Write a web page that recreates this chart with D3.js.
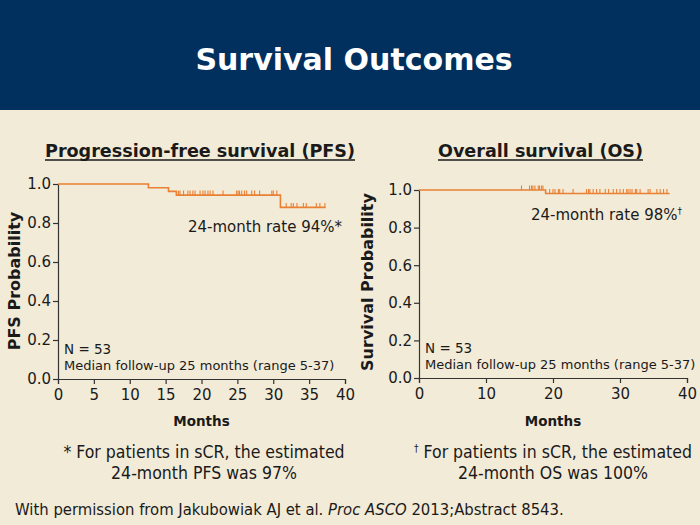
<!DOCTYPE html>
<html>
<head>
<meta charset="utf-8">
<script src="https://cdn.jsdelivr.net/npm/d3@7"></script>
<style>
  body { margin: 0; background: #f2ebd8; }
  svg { display: block; }
  text { font-family: "DejaVu Sans", Verdana, sans-serif; fill: #1a1a1a; }
</style>
</head>
<body>
<svg id="chart"></svg>
<script>
// Progression-free survival: step times (months) and probabilities
const pfsTimes = [0, 12.6, 15.4, 16.5, 31.0, 37.3];
const pfsSurv = [1.0, 0.981, 0.962, 0.943, 0.88, 0.88];
const pfsCensored = [16.8, 17.0, 17.5, 18.1, 18.4, 18.8, 19.1, 19.8, 20.2, 20.5, 20.9, 21.2, 21.6, 23.0,
  24.9, 25.1, 25.3, 25.6, 26.0, 26.3, 27.0, 27.4, 28.1, 29.8, 30.0, 30.5,
  31.8, 32.5, 32.8, 33.3, 34.2, 34.6, 36.0, 36.5, 37.2];

// Overall survival
const osTimes = [0, 18.9, 37.4];
const osSurv = [1.0, 0.981, 0.981];
const osCensored = [15.3, 16.5, 16.8, 17.0, 17.3, 17.8, 18.0, 18.3, 18.5,
  19.5, 20.0, 20.3, 20.8, 21.0, 21.5, 23.0, 25.0, 25.3, 25.5, 26.0, 26.5, 27.0, 27.8, 28.3,
  29.0, 29.5, 30.0, 30.5, 31.0, 31.2, 31.5, 31.8, 32.3, 32.5, 33.0, 34.2, 34.5, 35.5, 36.0, 36.5, 37.0];

const yTicks = [0, 0.2, 0.4, 0.6, 0.8, 1.0];
const pfsXTicks = [0, 5, 10, 15, 20, 25, 30, 35, 40];
const osXTicks = [0, 10, 20, 30, 40];

const width = 700, height = 525;
const orange = '#ea8033';
const condensed = '"DejaVu Sans Condensed", "DejaVu Sans", sans-serif';

const svg = d3.select('#chart').attr('width', width).attr('height', height);

svg.append('rect').attr('width', width).attr('height', height).attr('fill', '#f2ebd8');
svg.append('rect').attr('width', width).attr('height', 110).attr('fill', '#012f5e');

svg.append('text')
  .attr('x', 354).attr('y', 70)
  .attr('text-anchor', 'middle')
  .style('font-size', '30px').style('font-weight', 'bold').style('fill', '#fff')
  .text('Survival Outcomes');

const heading = (x, text, len) => {
  svg.append('text')
    .attr('x', x).attr('y', 157)
    .attr('textLength', len).attr('lengthAdjust', 'spacingAndGlyphs')
    .style('font-size', '18px').style('font-weight', 'bold')
    .text(text);
  svg.append('line')
    .attr('x1', x).attr('x2', x + len)
    .attr('y1', 160).attr('y2', 160)
    .attr('stroke', '#1a1a1a').attr('stroke-width', 1.5);
};
heading(45, 'Progression-free survival (PFS)', 310);
heading(438, 'Overall survival (OS)', 205);

function drawPanel(cfg) {
  const x = d3.scaleLinear().domain([0, 40]).range([cfg.left, cfg.right]);
  const y = d3.scaleLinear().domain([0, 1]).range([cfg.bottom, cfg.top]);
  const g = svg.append('g');

  const yAxis = g.append('g')
    .attr('transform', `translate(${cfg.left},0)`)
    .call(d3.axisLeft(y).tickValues(yTicks).tickFormat(d3.format('.1f')).tickSizeOuter(0).tickSize(5).tickPadding(2));
  yAxis.selectAll('text').style('font-size', '15px');

  const xAxis = g.append('g')
    .attr('transform', `translate(0,${cfg.bottom})`)
    .call(d3.axisBottom(x).tickValues(cfg.xTicks).tickSizeOuter(0).tickSize(5).tickPadding(5));
  xAxis.selectAll('text').style('font-size', '15px');

  g.selectAll('.domain, .tick line').attr('stroke', '#333').attr('stroke-width', 1.2);

  const pts = cfg.times.map((t, i) => [t, cfg.surv[i]]);
  const line = d3.line().x(d => x(d[0])).y(d => y(d[1])).curve(d3.curveStepAfter);
  g.append('path').datum(pts)
    .attr('fill', 'none').attr('stroke', orange).attr('stroke-width', 1.6)
    .attr('d', line);

  const survAt = t => {
    let s = cfg.surv[0];
    cfg.times.forEach((tt, i) => { if (tt <= t) s = cfg.surv[i]; });
    return s;
  };
  g.selectAll('.cens').data(cfg.censored).join('line')
    .attr('x1', d => x(d)).attr('x2', d => x(d))
    .attr('y1', d => y(survAt(d))).attr('y2', d => y(survAt(d)) - 4.5)
    .attr('stroke', orange).attr('stroke-width', 1.1);

  g.append('text')
    .attr('transform', `translate(${cfg.ylabX},${cfg.ylabY}) rotate(-90)`)
    .attr('text-anchor', 'middle')
    .style('font-size', '16px').style('font-weight', 'bold')
    .text(cfg.ylab);

  g.append('text')
    .attr('x', (cfg.left + cfg.right) / 2).attr('y', 426)
    .attr('text-anchor', 'middle')
    .style('font-size', '13.5px').style('font-weight', 'bold')
    .text('Months');

  const rate = g.append('text')
    .attr('x', cfg.rateX).attr('y', cfg.rateY)
    .attr('text-anchor', 'end')
    .style('font-size', '15px');
  rate.append('tspan').text(cfg.rateText);
  rate.append('tspan').attr('dy', cfg.rateSup ? -6 : 0)
    .style('font-size', cfg.rateSup ? '9px' : '15px').text(cfg.rateMark);

  g.append('text').attr('x', cfg.left + 6).attr('y', cfg.bottom - 25)
    .style('font-size', '13.5px').text('N = 53');
  g.append('text').attr('x', cfg.left + 6).attr('y', cfg.bottom - 9)
    .style('font-size', '13px').text('Median follow-up 25 months (range 5-37)');

  cfg.notes.forEach((n, i) => {
    const t = g.append('text')
      .attr('x', cfg.noteX).attr('y', 458 + i * 21)
      .attr('text-anchor', 'middle')
      .style('font-family', condensed)
      .style('font-size', '17.5px');
    if (i === 0) {
      t.append('tspan').attr('dy', cfg.noteSup ? -6 : 0)
        .style('font-size', cfg.noteSup ? '10px' : '17.5px').text(cfg.noteMark);
      t.append('tspan').attr('dy', cfg.noteSup ? 6 : 0).text(' ' + n);
    } else {
      t.text(n);
    }
  });
}

drawPanel({
  left: 58, right: 345, top: 184, bottom: 379,
  xTicks: pfsXTicks, times: pfsTimes, surv: pfsSurv, censored: pfsCensored,
  ylab: 'PFS Probability', ylabX: 20, ylabY: 281,
  rateX: 342, rateY: 232, rateText: '24-month rate 94%', rateMark: '*', rateSup: false,
  noteX: 204, noteMark: '*', noteSup: false,
  notes: ['For patients in sCR, the estimated', '24-month PFS was 97%']
});

drawPanel({
  left: 419, right: 687, top: 190, bottom: 378,
  xTicks: osXTicks, times: osTimes, surv: osSurv, censored: osCensored,
  ylab: 'Survival Probability', ylabX: 373, ylabY: 282,
  rateX: 682, rateY: 220, rateText: '24-month rate 98%', rateMark: '\u2020', rateSup: true,
  noteX: 553, noteMark: '\u2020', noteSup: true,
  notes: ['For patients in sCR, the estimated', '24-month OS was 100%']
});

const cite = svg.append('text').attr('x', 15).attr('y', 515).style('font-size', '16.5px')
  .style('font-family', condensed);
cite.append('tspan').text('With permission from Jakubowiak AJ et al. ');
cite.append('tspan').style('font-style', 'italic').text('Proc ASCO');
cite.append('tspan').text(' 2013;Abstract 8543.');
</script>
</body>
</html>
